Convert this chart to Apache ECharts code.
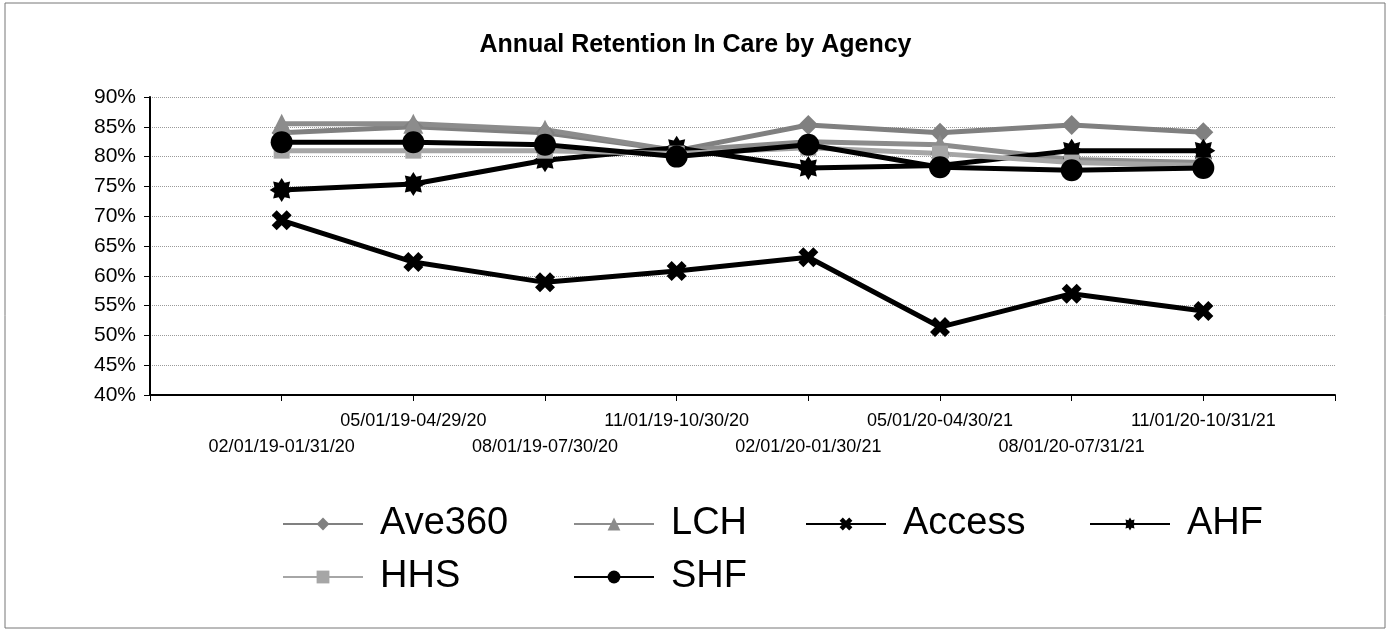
<!DOCTYPE html>
<html>
<head>
<meta charset="utf-8">
<title>Annual Retention In Care by Agency</title>
<script src="https://cdn.jsdelivr.net/npm/echarts@6/dist/echarts.min.js"></script>
<style>
  html, body { margin: 0; padding: 0; background: #fff; }
  #chart { width: 1391px; height: 632px; }
</style>
</head>
<body>
<div id="chart"></div>
<script>
// periods (empty slots at both ends leave the gap Excel draws)
var periods = ['', '02/01/19-01/31/20', '05/01/19-04/29/20', '08/01/19-07/30/20', '11/01/19-10/30/20',
  '02/01/20-01/30/21', '05/01/20-04/30/21', '08/01/20-07/31/21', '11/01/20-10/31/21', ''];

// retention in %, one value per period
var ave360 = [84, 85, 84, 81, 85.3, 84, 85.3, 84.1];
var lch    = [85.5, 85.5, 84.5, 81, 82.5, 82, 79.5, 79];
var access = [69.3, 62.3, 58.9, 60.8, 63.1, 51.4, 57, 54.1];
var ahf    = [74.4, 75.4, 79.4, 81.5, 78.1, 78.5, 81, 81];
var hhs    = [81, 81, 81, 80.5, 81.5, 80.5, 79, 78.5];
var shf    = [82.4, 82.4, 82, 80, 82, 78.2, 77.7, 78.1];

var yTicks = [40, 45, 50, 55, 60, 65, 70, 75, 80, 85, 90];

var chart = echarts.init(document.getElementById('chart'));

var FONT = 'Arial, "Liberation Sans", sans-serif';
// fat cross and spiky star, like the Excel markers
var xSymbol = 'path://M2.5,0 L5,2.5 L7.5,0 L10,2.5 L7.5,5 L10,7.5 L7.5,10 L5,7.5 L2.5,10 L0,7.5 L2.5,5 L0,2.5 Z';
var starSymbol = 'path://M10,0 L12.5,4 L17.1,2.9 L16,7.5 L20,10 L16,12.5 L17.1,17.1 L12.5,16 L10,20 L7.5,16 L2.9,17.1 L4,12.5 L0,10 L4,7.5 L2.9,2.9 L7.5,4 Z';

function pad(vals) {
  return [null].concat(vals).concat([null]);
}

function line(name, vals, color, symbol, size, width) {
  return {
    name: name,
    type: 'line',
    data: pad(vals),
    symbol: symbol,
    symbolSize: size,
    showAllSymbol: true,
    connectNulls: false,
    lineStyle: { color: color, width: width },
    itemStyle: { color: color, borderWidth: 0 },
    emphasis: { disabled: true },
    animation: false
  };
}

function legendAt(name, left, top) {
  return {
    data: [name],
    left: left,
    top: top,
    itemWidth: 80,
    itemHeight: 16,
    selectedMode: false,
    textStyle: { fontFamily: FONT, fontSize: 38, color: '#000', padding: [0, 0, 0, 12] }
  };
}

var option = {
  backgroundColor: '#fff',
  title: {
    text: 'Annual Retention In Care by Agency',
    left: 'center',
    top: 28,
    textStyle: { fontFamily: FONT, fontSize: 25, fontWeight: 'bold', color: '#000' }
  },
  graphic: [{
    type: 'rect',
    shape: { x: 5, y: 3, width: 1380, height: 625 },
    style: { fill: null, stroke: '#777', lineWidth: 1 },
    silent: true
  }],
  legend: [
    legendAt('Ave360', 277, 500),
    legendAt('LCH', 568, 500),
    legendAt('Access', 800, 500),
    legendAt('AHF', 1084, 500),
    legendAt('HHS', 277, 553),
    legendAt('SHF', 568, 553)
  ],
  grid: { left: 150, right: 56, top: 97, bottom: 237, containLabel: false },
  xAxis: {
    type: 'category',
    data: periods,
    boundaryGap: false,
    axisLine: { lineStyle: { color: '#000', width: 2 } },
    axisTick: { show: true, interval: 0, length: 6, lineStyle: { color: '#000', width: 1 } },
    axisLabel: {
      interval: 0,
      margin: 13,
      lineHeight: 26,
      fontFamily: FONT,
      fontSize: 18,
      color: '#000',
      formatter: function (v, i) {
        if (!v) return '';
        return i % 2 === 1 ? '\n' + v : v;
      }
    },
    splitLine: { show: false }
  },
  yAxis: {
    type: 'value',
    min: yTicks[0],
    max: yTicks[yTicks.length - 1],
    interval: yTicks[1] - yTicks[0],
    axisLine: { show: true, lineStyle: { color: '#000', width: 2 } },
    axisTick: { show: true, length: 6, lineStyle: { color: '#000' } },
    axisLabel: {
      margin: 14,
      fontFamily: FONT,
      fontSize: 21,
      color: '#000',
      formatter: '{value}%'
    },
    splitLine: { show: true, lineStyle: { color: '#9a9a9a', type: 'dotted', width: 1 } }
  },
  series: [
    line('Ave360', ave360, '#808080', 'diamond', 20, 5),
    line('LCH', lch, '#8c8c8c', 'triangle', 20, 5),
    line('Access', access, '#000', xSymbol, 20, 5),
    line('AHF', ahf, '#000', starSymbol, 24, 5),
    line('HHS', hhs, '#a6a6a6', 'rect', 16, 5),
    line('SHF', shf, '#000', 'circle', 22, 5)
  ]
};

chart.setOption(option);
</script>
</body>
</html>
